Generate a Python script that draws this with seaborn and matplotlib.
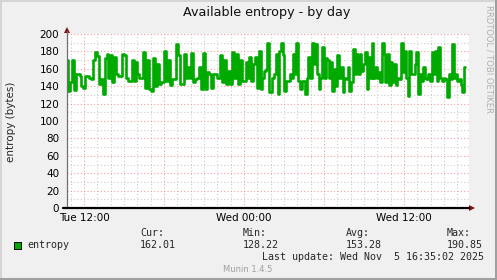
import numpy as np
import pandas as pd
import matplotlib
matplotlib.use("Agg")
import matplotlib.pyplot as plt
import seaborn as sns
from matplotlib.patches import Rectangle, Polygon
from matplotlib.lines import Line2D

# ---------------- data ----------------
title = "Available entropy - by day"
ylabel = "entropy (bytes)"
series_name = "entropy"
x_tick_hours = [12, 18, 24, 30, 36]
x_tick_labels = ["Tue 12:00", "", "Wed 00:00", "", "Wed 12:00"]
y_ticks = [0, 20, 40, 60, 80, 100, 120, 140, 160, 180, 200]
stat_names = ["Cur:", "Min:", "Avg:", "Max:"]
stat_values = ["162.01", "128.22", "153.28", "190.85"]
last_update = "Last update: Wed Nov  5 16:35:02 2025"
footer = "Munin 1.4.5"
side_text = "RRDTOOL / TOBI OETIKER"

# first part of the day (Tue ~10:45 -> Wed ~01:10)
entropy_part1 = [170, 135, 145, 170, 136, 154, 154, 152, 140, 138, 152, 152, 150, 148,
                 170, 179, 175, 143, 148, 131, 172, 177, 150, 176, 145, 174, 154, 152,
                 152, 177, 176, 150, 146, 146, 170, 146, 168, 154, 150, 150, 179, 138,
                 170, 137, 135, 172, 140, 166, 143, 145, 145, 181, 146, 170, 141, 148,
                 148, 188, 176, 143, 143, 177, 150, 162, 150, 178, 145, 148, 150, 162,
                 137, 178, 137, 156, 154, 138, 154, 154, 150, 150, 176, 145, 170, 143,
                 158, 143, 179, 150, 177, 143, 170, 146, 146, 168, 150, 174, 146, 165,
                 174, 138, 180]
# second part (Wed ~01:10 -> Wed ~16:35)
entropy_part2 = [137, 150, 158, 160, 190, 133, 133, 150, 154, 177, 131, 181, 190, 176,
                 135, 146, 146, 154, 150, 177, 154, 190, 146, 137, 146, 146, 131, 150,
                 174, 150, 190, 166, 189, 154, 137, 150, 185, 150, 172, 170, 150, 168,
                 135, 160, 140, 176, 150, 162, 133, 150, 148, 162, 135, 145, 183, 154,
                 177, 154, 177, 158, 166, 179, 137, 174, 150, 190, 150, 162, 150, 156,
                 145, 190, 177, 145, 177, 141, 168, 145, 166, 141, 150, 148, 190, 156,
                 181, 150, 129, 181, 154, 154, 166, 179, 131, 154, 146, 162, 150, 148,
                 154, 146, 179, 154, 181, 146, 185, 150, 146, 150, 148, 128, 154, 148,
                 189, 150, 154, 146, 148, 141, 133, 162]

# time span (hours since Tue 00:00)
part1_start, part1_end = 10.725, 25.2
part2_start, part2_end = 25.3, 40.575
x_min, x_max = 10.725, 40.875

# ---------------- styling ----------------
W, H = 497, 280
BG = "#F0F0F0"
GREEN = "#00AA00"
MAJOR = "#F2A0A0"
MINOR = "#CCCCCC"
ARROW = "#7F1010"

sns.set_style("white")
plt.rcParams['font.family'] = ['DejaVu Sans']

fig = plt.figure(figsize=(W / 100, H / 100), dpi=100)
fig.patch.set_facecolor(BG)

def fx(px):
    return px / W

def fy(py):
    return 1 - py / H

ax = fig.add_axes([fx(67), fy(208), 402 / W, 174 / H])
ax.set_facecolor("white")

t = np.concatenate([np.linspace(part1_start, part1_end, len(entropy_part1)),
                    np.linspace(part2_start, part2_end, len(entropy_part2))])
df = pd.DataFrame({"hours": t, "entropy": entropy_part1 + entropy_part2})

sns.lineplot(data=df, x="hours", y="entropy", ax=ax, color=GREEN, linewidth=1.9,
             drawstyle="steps-mid", estimator=None, sort=False, legend=False, zorder=5)

ax.set_xlim(x_min, x_max)
ax.set_ylim(0, 200)
ax.set_xticks(x_tick_hours)
ax.set_xticklabels(x_tick_labels)
ax.set_xticks(np.arange(11, 41, 1), minor=True)
ax.set_yticks(y_ticks)
ax.set_yticklabels([str(v) for v in y_ticks])
ax.set_yticks(np.arange(10, 200, 20), minor=True)
ax.grid(which="minor", color=MINOR, linestyle=(0, (1, 2)), linewidth=0.8, zorder=1)
ax.grid(which="major", color=MAJOR, linestyle=(0, (1, 2)), linewidth=0.8, zorder=2)
ax.set_axisbelow(True)
ax.tick_params(axis="both", which="both", labelsize=7.5, colors="black")
ax.tick_params(axis="x", which="both", length=0, pad=3.5)
ax.tick_params(axis="y", which="both", length=2, width=0.7, color="#808080", pad=3.5)
for s in ax.spines.values():
    s.set_visible(False)
ax.set_xlabel("")
ax.set_ylabel("")

# axes lines and arrows
fig.add_artist(Line2D([fx(66.5), fx(66.5)], [fy(208), fy(31)], color="#707070", lw=0.9))
fig.add_artist(Polygon([[fx(64), fy(33)], [fx(70), fy(33)], [fx(67), fy(27)]],
                       closed=True, color=ARROW, lw=0))
fig.add_artist(Line2D([fx(63), fx(469)], [fy(208), fy(208)], color="black", lw=1.6))
fig.add_artist(Polygon([[fx(469), fy(205)], [fx(469), fy(211)], [fx(475), fy(208)]],
                       closed=True, color=ARROW, lw=0))

# titles
fig.text(fx(266.5), fy(12.5), title, ha="center", va="center", fontsize=9.2, color="#101010")
fig.text(fx(11), fy(122), ylabel, ha="center", va="center", rotation=90, fontsize=7.5)
fig.text(fx(489), fy(5), side_text, ha="center", va="top", rotation=270, fontsize=6,
         color="#B0B0B0")

# legend
mono = "DejaVu Sans Mono"
stat_x = [140, 243, 346, 447]
for xs, nm, val in zip(stat_x, stat_names, stat_values):
    fig.text(fx(xs), fy(233), nm, ha="left", va="center", fontsize=7.2, family=mono)
    fig.text(fx(xs), fy(245), val, ha="left", va="center", fontsize=7.2, family=mono)
fig.add_artist(Rectangle((fx(13.5), fy(249)), 7 / W, 7 / H, facecolor=GREEN,
                         edgecolor="black", lw=0.7))
fig.text(fx(27), fy(245), series_name, ha="left", va="center", fontsize=7.2, family=mono)
fig.text(fx(483.5), fy(257), last_update, ha="right", va="center", fontsize=7.2, family=mono)
fig.text(fx(248), fy(269.5), footer, ha="center", va="center", fontsize=6, color="#A0A0A0")

# frame
fig.add_artist(Line2D([0, 1], [fy(0.5), fy(0.5)], color="#D0D0D0", lw=1.2))
fig.add_artist(Line2D([fx(0.5), fx(0.5)], [0, 1], color="#D0D0D0", lw=1.2))
fig.add_artist(Line2D([0, 1], [fy(279), fy(279)], color="#A0A0A0", lw=2.2))
fig.add_artist(Line2D([fx(496), fx(496)], [0, 1], color="#A0A0A0", lw=2.2))

fig.savefig("out.png", dpi=100, facecolor=BG)
